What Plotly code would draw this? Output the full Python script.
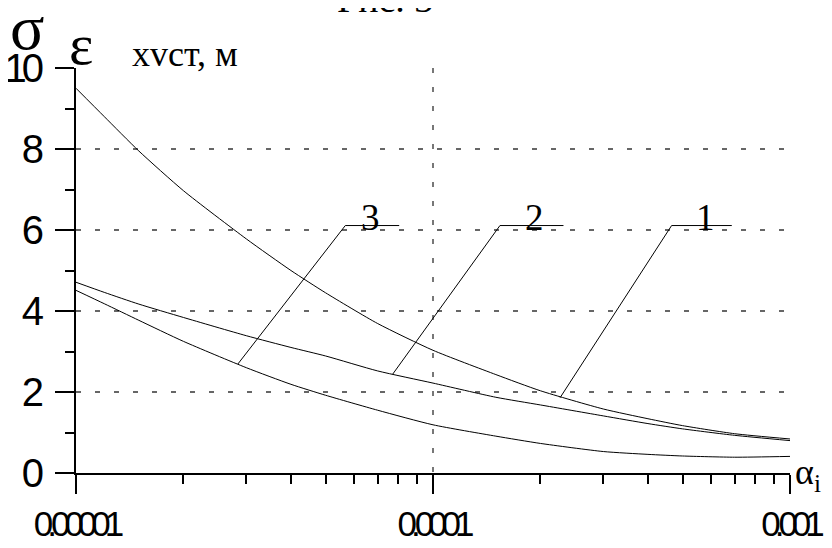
import math
import plotly.graph_objects as go

# ---- data ----
alpha = [1e-5, 1.2e-5, 1.5e-5, 2e-5, 3e-5, 4e-5, 5e-5, 7e-5,
         1e-4, 1.5e-4, 2e-4, 3e-4, 4e-4, 5e-4, 7e-4, 1e-3]
curve1 = [9.50, 8.80, 7.95, 6.97, 5.78, 5.00, 4.45, 3.69,
          3.03, 2.43, 2.03, 1.58, 1.34, 1.17, 0.97, 0.84]
curve2 = [4.71, 4.46, 4.17, 3.84, 3.39, 3.10, 2.89, 2.52,
          2.22, 1.87, 1.68, 1.41, 1.22, 1.09, 0.93, 0.80]
curve3 = [4.51, 4.18, 3.77, 3.25, 2.60, 2.19, 1.92, 1.55,
          1.19, 0.91, 0.73, 0.53, 0.46, 0.42, 0.39, 0.41]

x_tick_vals = [1e-5, 1e-4, 1e-3]
x_tick_text = ["0.00001", "0.0001", "0.001"]
x_minor_vals = [k * 1e-5 for k in range(2, 10)] + [k * 1e-4 for k in range(2, 10)]
y_tick_vals = [0, 2, 4, 6, 8, 10]
y_tick_text = ["0", "2", "4", "6", "8", "10"]

# leader lines for curve labels: (x_curve, y_curve, x_knee, y_shelf, x_end, label, x_label)
leaders = [
    (2.84e-5, 2.69, 5.68e-5, 6.11, 8.04e-5, "3", 6.70e-5),
    (7.71e-5, 2.44, 1.54e-4, 6.11, 2.32e-4, "2", 1.93e-4),
    (2.27e-4, 1.86, 4.66e-4, 6.11, 6.87e-4, "1", 5.78e-4),
]

SANS = "Liberation Sans, Arial, sans-serif"
SERIF = "Liberation Serif, Times New Roman, serif"

fig = go.Figure()
for ys in (curve1, curve2, curve3):
    fig.add_trace(go.Scatter(x=alpha, y=ys, mode="lines",
                             line=dict(color="black", width=1, shape="spline", smoothing=0.6),
                             showlegend=False, hoverinfo="skip"))

for (xc, yc, xk, ysh, xe, lab, xl) in leaders:
    fig.add_trace(go.Scatter(x=[xc, xk, xe], y=[yc, ysh, ysh], mode="lines",
                             line=dict(color="black", width=1),
                             showlegend=False, hoverinfo="skip"))
    # annotation x on a log axis is given in log10 units
    fig.add_annotation(x=math.log10(xl), y=ysh, xref="x", yref="y", text=lab, showarrow=False,
                       xanchor="center", yanchor="bottom", yshift=-14,
                       font=dict(family=SERIF, size=37, color="black"))

grid_dash = "5px,14px"
fig.update_xaxes(type="log", range=[-5, -3], automargin=False,
                 showline=True, linecolor="black", linewidth=2,
                 ticks="outside", ticklen=19, tickwidth=2, tickcolor="black",
                 tickvals=x_tick_vals,
                 ticktext=['<span style="letter-spacing:-6px">%s</span>' % t for t in x_tick_text],
                 tickfont=dict(family=SANS, size=35, color="black"),
                 showgrid=True, gridcolor="#777777", gridwidth=2, griddash=grid_dash,
                 zeroline=False,
                 minor=dict(tickvals=x_minor_vals, ticks="outside", ticklen=9,
                            tickwidth=2, tickcolor="black", showgrid=False))
fig.update_yaxes(range=[0, 10], automargin=False,
                 showline=True, linecolor="black", linewidth=2,
                 ticks="outside", ticklen=19, tickwidth=2, tickcolor="black",
                 tickvals=y_tick_vals, ticklabelstandoff=8,
                 ticktext=['<span style="letter-spacing:-5px">%s</span>' % t for t in y_tick_text],
                 tickfont=dict(family=SANS, size=40, color="black"),
                 showgrid=True, gridcolor="#666666", gridwidth=1.5, griddash=grid_dash,
                 zeroline=False,
                 minor=dict(dtick=1, ticks="outside", ticklen=9,
                            tickwidth=2, tickcolor="black", showgrid=False))

annos = [
    dict(text="σ", x=-0.0686, y=1.100, size=64, xanchor="center", yanchor="middle"),
    dict(text="ε", x=0.007, y=1.059, size=58, xanchor="center", yanchor="middle"),
    dict(text="xvст, м", x=0.152, y=1.035, size=36, xanchor="center", yanchor="middle"),
    dict(text="Рис. 3", x=0.4328, y=1.113, size=38, xanchor="center", yanchor="bottom"),
    dict(text="α<sub>i</sub>", x=1.004, y=-0.004, size=36, xanchor="left", yanchor="middle"),
]
for a in annos:
    fig.add_annotation(x=a["x"], y=a["y"], xref="paper", yref="paper", text=a["text"],
                       showarrow=False, xanchor=a["xanchor"], yanchor=a["yanchor"],
                       font=dict(family=SERIF, size=a["size"], color="black"))

# the page body has an 8px default margin, so the figure is 824x540 and the
# margins are reduced by 8px on the left/top to keep the plot area in place
fig.update_layout(width=824, height=540,
                  margin=dict(l=68, r=42, t=60, b=75, pad=0, autoexpand=False),
                  paper_bgcolor="white", plot_bgcolor="white",
                  showlegend=False)

fig.write_html("out.html")
